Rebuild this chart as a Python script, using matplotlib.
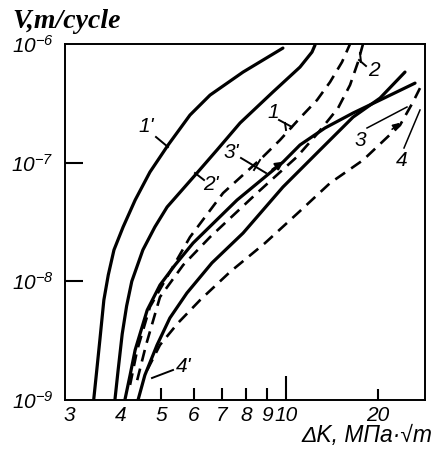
import numpy as np
import matplotlib
matplotlib.use('Agg')
import matplotlib.pyplot as plt
from matplotlib.ticker import NullLocator

# ---- data (ΔK in MPa·√m, V in m/cycle) ----
dk_1p = [3.44, 3.50, 3.56, 3.64, 3.73, 3.85, 4.05, 4.33, 4.70, 5.20, 5.87, 6.56, 7.88, 9.83]
v_1p = [1.00e-9, 1.79e-9, 3.20e-9, 6.96e-9, 1.13e-8, 1.84e-8, 2.87e-8, 4.84e-8, 8.33e-8,
        1.41e-7, 2.52e-7, 3.71e-7, 5.80e-7, 9.24e-7]

dk_2p = [3.87, 3.94, 4.03, 4.13, 4.25, 4.52, 4.83, 5.17, 6.10, 6.82, 7.75, 9.30, 11.11, 12.16, 12.44]
v_2p = [1.00e-9, 1.79e-9, 3.60e-9, 6.20e-9, 1.00e-8, 1.84e-8, 2.87e-8, 4.23e-8, 8.17e-8,
        1.28e-7, 2.16e-7, 3.94e-7, 6.39e-7, 8.55e-7, 9.79e-7]

dk_3p = [4.09, 4.21, 4.33, 4.63, 4.97, 5.40, 5.97, 7.62, 9.83, 11.11, 13.41, 16.56, 20.29, 26.40]
v_3p = [1.00e-9, 1.62e-9, 2.64e-9, 5.73e-9, 9.31e-9, 1.37e-8, 2.10e-8, 4.84e-8, 1.01e-7,
        1.41e-7, 1.96e-7, 2.62e-7, 3.37e-7, 4.68e-7]

dk_4p = [4.40, 4.57, 4.89, 5.25, 5.77, 6.63, 7.88, 9.83, 12.92, 16.56, 20.29, 24.48]
v_4p = [1.00e-9, 1.62e-9, 2.91e-9, 4.91e-9, 7.97e-9, 1.43e-8, 2.55e-8, 6.23e-8, 1.28e-7,
        2.42e-7, 3.50e-7, 5.80e-7]

dk_1 = [4.21, 4.38, 4.70, 5.20, 5.87, 7.05, 8.80, 9.67, 11.11, 12.63, 13.93, 15.24, 16.19]
v_1 = [1.34e-9, 2.64e-9, 6.08e-9, 1.13e-8, 2.36e-8, 5.54e-8, 1.12e-7, 1.55e-7, 2.38e-7,
       3.37e-7, 4.78e-7, 7.04e-7, 1.00e-6]

dk_2 = [4.38, 4.60, 4.97, 5.65, 6.56, 8.51, 10.86, 12.72, 14.79, 16.19, 17.19, 17.85]
v_2 = [1.47e-9, 2.91e-9, 7.38e-9, 1.37e-8, 2.36e-8, 5.54e-8, 1.12e-7, 1.78e-7, 2.88e-7,
       4.51e-7, 7.04e-7, 1.00e-6]

dk_4 = [4.63, 4.97, 5.49, 6.21, 7.33, 8.90, 11.11, 13.93, 17.85, 23.58, 26.00, 27.41]
v_4 = [1.79e-9, 2.91e-9, 4.45e-9, 6.96e-9, 1.20e-8, 2.10e-8, 3.91e-8, 6.73e-8, 1.05e-7,
       2.07e-7, 3.24e-7, 4.25e-7]

x_ticks = [3, 4, 5, 6, 7, 8, 9, 10, 20]
x_tick_labels = ['3', '4', '5', '6', '7', '8', '9', '10', '20']
y_ticks = [1e-9, 1e-8, 1e-7, 1e-6]
y_tick_labels = [r'$10^{-9}$', r'$10^{-8}$', r'$10^{-7}$', r'$10^{-6}$']

# ---- style ----
SANS = ['Liberation Sans', 'DejaVu Sans']
plt.rcParams['mathtext.fontset'] = 'custom'
plt.rcParams['mathtext.rm'] = 'Liberation Sans:italic'
plt.rcParams['mathtext.it'] = 'Liberation Sans:italic'
plt.rcParams['mathtext.default'] = 'rm'

# compressed log scale above 10 (as drawn in the original figure)
K = 306.0 / 415.0


def fwd(x):
    x = np.asarray(x, dtype=float)
    lx = np.log10(np.clip(x, 1e-12, None))
    return np.where(lx <= 1, lx, 1 + (lx - 1) * K)


def inv(y):
    y = np.asarray(y, dtype=float)
    return np.where(y <= 1, 10.0 ** y, 10.0 ** (1 + (y - 1) / K))


W, H = 436, 455
fig = plt.figure(figsize=(W / 100, H / 100), dpi=100)
L, R, T, B = 65, 425, 44, 400
ax = fig.add_axes([L / W, 1 - B / H, (R - L) / W, (B - T) / H])
ax.set_xscale('function', functions=(fwd, inv))
ax.set_yscale('log')
ax.set_xlim(2.934, 28.46)
ax.set_ylim(1e-9, 1e-6)

for s in ax.spines.values():
    s.set_linewidth(1.4)

solid = dict(color='black', lw=2.3, solid_capstyle='round', solid_joinstyle='round')
dashed = dict(color='black', lw=1.9, linestyle=(0, (4.5, 2.8)), dash_capstyle='butt')

ax.plot(dk_1p, v_1p, **solid)
ax.plot(dk_2p, v_2p, **solid)
ax.plot(dk_3p, v_3p, **solid)
ax.plot(dk_4p, v_4p, **solid)
ax.plot(dk_1, v_1, **dashed)
ax.plot(dk_2, v_2, **dashed)
ax.plot(dk_4, v_4, **dashed)

# ticks
ax.set_xticks(x_ticks)
ax.set_xticklabels(x_tick_labels)
ax.set_yticks(y_ticks)
ax.set_yticklabels(y_tick_labels)
ax.xaxis.set_minor_locator(NullLocator())
ax.yaxis.set_minor_locator(NullLocator())
ax.tick_params(axis='x', direction='in', length=9, width=1.5, pad=4, labelsize=15)
ax.tick_params(axis='y', direction='in', length=13, width=1.5, pad=8, labelsize=15)
for lab in ax.get_xticklabels():
    lab.set_fontfamily(SANS)
    lab.set_fontstyle('italic')

xt = ax.xaxis.get_major_ticks()
xt[0].tick1line.set_visible(False)
xt[1].tick1line.set_visible(False)
xt[7].tick1line.set_markersize(17)
xt[8].tick1line.set_markersize(8)
yt = ax.yaxis.get_major_ticks()
yt[0].tick1line.set_visible(False)
yt[3].tick1line.set_visible(False)


def P(x, y):
    return ((x - L) / (R - L), (B - y) / (B - T))


def lead(p0, p1, lw=1.4):
    a, b = P(*p0), P(*p1)
    ax.plot([a[0], b[0]], [a[1], b[1]], color='black', lw=lw,
            transform=ax.transAxes, clip_on=False)


def lbl(s, x, y):
    ax.text(*P(x, y), s, transform=ax.transAxes, ha='center', va='center',
            fontsize=15, fontstyle='italic', fontfamily=SANS)


# curve labels with leader lines
lbl("1'", 146, 127); lead((156, 137), (168, 147))
lbl("2'", 211, 185); lead((195, 173), (204, 180))
lbl("3'", 231, 153); lead((241, 158), (266, 173)); lead((254, 170), (260, 160))
lbl("4'", 184, 367); lead((173, 370), (152, 378))
lbl("1", 273, 113); lead((279, 120), (292, 127)); lead((285, 123), (286, 130))
lbl("2", 374, 70); lead((366, 66), (359, 60)); lead((361, 62), (360, 53))
lbl("3", 360, 141); lead((367, 128), (407, 107), lw=1.1)
lbl("4", 402, 160); lead((404, 148), (420, 110), lw=1.1)

# arrow heads
ax.annotate('', xy=P(286, 160), xytext=P(270, 171), xycoords='axes fraction',
            textcoords='axes fraction',
            arrowprops=dict(arrowstyle='-|>', color='black', lw=1.5, mutation_scale=12))
ax.annotate('', xy=P(402, 121), xytext=P(390, 131), xycoords='axes fraction',
            textcoords='axes fraction',
            arrowprops=dict(arrowstyle='-|>', color='black', lw=1.2, mutation_scale=10))

# axis titles
fig.text(12 / W, 1 - 28 / H, 'V,m/cycle', fontfamily=['Liberation Serif', 'DejaVu Serif'],
         fontweight='bold', fontstyle='italic', fontsize=20, ha='left', va='baseline')
fig.text(432 / W, 1 - 442 / H, 'ΔK, МПа·√m', fontfamily=SANS, fontstyle='italic',
         fontsize=16.5, ha='right', va='baseline')

fig.savefig('out.png', dpi=100, facecolor='white')
